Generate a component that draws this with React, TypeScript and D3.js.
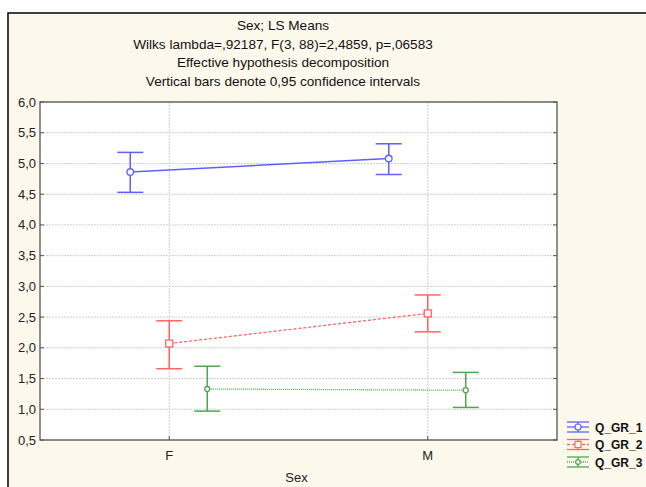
import React from "react";
import * as d3 from "d3";

const categories = ["F", "M"];
const seriesNames = ["Q_GR_1", "Q_GR_2", "Q_GR_3"];
const means = [
  [4.86, 5.08],
  [2.07, 2.56],
  [1.33, 1.31],
];
const upper = [
  [5.18, 5.32],
  [2.44, 2.86],
  [1.70, 1.60],
];
const lower = [
  [4.53, 4.82],
  [1.66, 2.26],
  [0.97, 1.03],
];
const yTicks = [0.5, 1, 1.5, 2, 2.5, 3, 3.5, 4, 4.5, 5, 5.5, 6];
const titleLines = [
  "Sex; LS Means",
  "Wilks lambda=,92187, F(3, 88)=2,4859, p=,06583",
  "Effective hypothesis decomposition",
  "Vertical bars denote 0,95 confidence intervals",
];

const colors = ["#5f5fff", "#ff6464", "#4fa64f"];
const dashes = [null, "3,2", "1,1"];
const offsets = [-39, 0, 38];

export default function App() {
  const W = 646, H = 487;
  const left = 40, right = 557, top = 102, bottom = 440;
  const x = d3.scaleLinear().domain([0.5, 2.5]).range([left, right]);
  const y = d3.scaleLinear().domain([0.5, 6]).range([bottom, top]);
  const font = "'Liberation Sans', Arial, sans-serif";
  const fmt = (v: number) => v.toFixed(1).replace(".", ",");
  const line = d3.line<[number, number]>().x(d => d[0]).y(d => d[1]);

  return (
    <svg width={W} height={H} style={{ position: "absolute", left: 0, top: 0 }} fontFamily={font}>
      <rect x={0} y={0} width={W} height={H} fill="#ffffff" />
      <rect x={8} y={13} width={W + 10} height={H + 10} fill="#fdf8ec" stroke="#000" strokeWidth={1.5} />
      {titleLines.map((t, i) => (
        <text key={i} x={283} y={30 + i * 18.5} textAnchor="middle" fontSize={13.6} fill="#111">{t}</text>
      ))}
      <rect x={left} y={top} width={right - left} height={bottom - top} fill="#fff" />
      {yTicks.map((t) => (
        <line key={"g" + t} x1={left} x2={right} y1={y(t)} y2={y(t)} stroke="#cfcfcf" strokeDasharray="2,1" />
      ))}
      {categories.map((c, i) => (
        <line key={"v" + c} x1={x(i + 1)} x2={x(i + 1)} y1={top} y2={bottom} stroke="#cfcfcf" strokeDasharray="2,1" />
      ))}
      <rect x={left} y={top} width={right - left} height={bottom - top} fill="none" stroke="#555" strokeWidth={1.3} />
      {yTicks.map((t) => (
        <g key={"t" + t}>
          <line x1={right - 4} x2={right} y1={y(t)} y2={y(t)} stroke="#555" />
          <line x1={left} x2={left + 4} y1={y(t)} y2={y(t)} stroke="#555" />
          <text x={left - 4} y={y(t) + 4.5} textAnchor="end" fontSize={13} fill="#222">{fmt(t)}</text>
        </g>
      ))}
      {categories.map((c, i) => (
        <g key={"c" + c}>
          <line x1={x(i + 1)} x2={x(i + 1)} y1={bottom} y2={bottom - 4} stroke="#555" />
          <text x={x(i + 1)} y={bottom + 20} textAnchor="middle" fontSize={13} fill="#222">{c}</text>
        </g>
      ))}
      <text x={(left + right) / 2 - 2} y={482} textAnchor="middle" fontSize={13} fill="#222">Sex</text>
      {seriesNames.map((s, si) => {
        const pts: [number, number][] = means[si].map((m, i) => [x(i + 1) + offsets[si], y(m)]);
        return (
          <g key={s}>
            <path d={line(pts) || ""} fill="none" stroke={colors[si]} strokeWidth={si === 0 ? 1.5 : 1.3}
              strokeDasharray={dashes[si] || undefined} />
            {means[si].map((m, i) => {
              const cx = x(i + 1) + offsets[si];
              return (
                <g key={i}>
                  <line x1={cx} x2={cx} y1={y(upper[si][i])} y2={y(lower[si][i])} stroke={colors[si]} strokeWidth={1.5} />
                  <line x1={cx - 13} x2={cx + 13} y1={y(upper[si][i])} y2={y(upper[si][i])} stroke={colors[si]} strokeWidth={1.5} />
                  <line x1={cx - 13} x2={cx + 13} y1={y(lower[si][i])} y2={y(lower[si][i])} stroke={colors[si]} strokeWidth={1.5} />
                  {si === 1 ? (
                    <rect x={cx - 3.5} y={y(m) - 3.5} width={7} height={7} fill="#fff" stroke={colors[si]} strokeWidth={1.3} />
                  ) : (
                    <circle cx={cx} cy={y(m)} r={si === 0 ? 3.3 : 2.5} fill="#fff" stroke={colors[si]} strokeWidth={1.3} />
                  )}
                </g>
              );
            })}
          </g>
        );
      })}
      {seriesNames.map((s, si) => {
        const ly = 427 + si * 17.5;
        const lx = 578;
        return (
          <g key={"l" + s}>
            <line x1={lx - 11} x2={lx + 11} y1={ly} y2={ly} stroke={colors[si]} strokeWidth={1.3} strokeDasharray={dashes[si] || undefined} />
            <line x1={lx - 11} x2={lx + 11} y1={ly - 5} y2={ly - 5} stroke={colors[si]} strokeWidth={1.3} />
            <line x1={lx - 11} x2={lx + 11} y1={ly + 5} y2={ly + 5} stroke={colors[si]} strokeWidth={1.3} />
            <line x1={lx} x2={lx} y1={ly - 5} y2={ly + 5} stroke={colors[si]} strokeWidth={1.3} />
            {si === 1 ? (
              <rect x={lx - 3} y={ly - 3} width={6} height={6} fill="#fff" stroke={colors[si]} strokeWidth={1.2} />
            ) : (
              <circle cx={lx} cy={ly} r={si === 0 ? 3 : 2.3} fill="#fff" stroke={colors[si]} strokeWidth={1.2} />
            )}
            <text x={595} y={ly + 4.5} fontSize={12} fontWeight="bold" fill="#111">{s}</text>
          </g>
        );
      })}
    </svg>
  );
}
